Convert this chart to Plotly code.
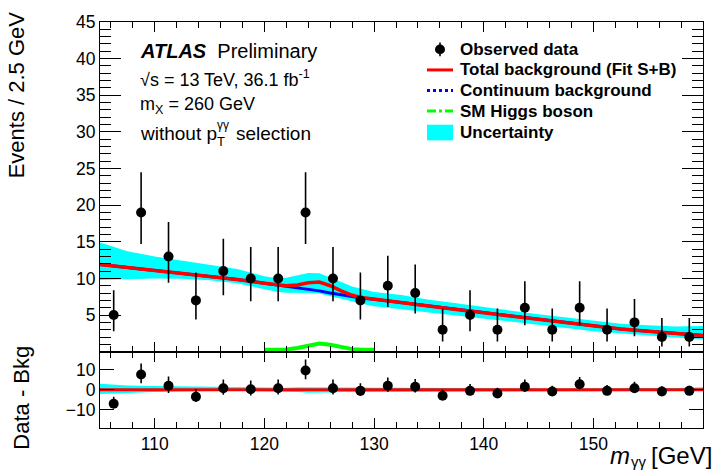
import plotly.graph_objects as go

# ---------------- data ----------------
bin_centers = [106.25, 108.75, 111.25, 113.75, 116.25, 118.75, 121.25, 123.75,
               126.25, 128.75, 131.25, 133.75, 136.25, 138.75, 141.25, 143.75,
               146.25, 148.75, 151.25, 153.75, 156.25, 158.75]
observed = [5, 19, 13, 7, 11, 10, 10, 19, 10, 7, 9, 8, 3, 5, 3, 6, 3, 6, 3, 4, 2, 2]
err_up = [3.4, 5.5, 4.7, 3.8, 4.4, 4.3, 4.3, 5.5, 4.3, 3.8, 4.1, 3.9,
          2.9, 3.4, 2.9, 3.6, 2.9, 3.6, 2.9, 3.2, 2.6, 2.6]
err_dn = [2.2, 4.3, 3.6, 2.6, 3.3, 3.1, 3.1, 4.3, 3.1, 2.6, 2.9, 2.8,
          1.6, 2.2, 1.6, 2.4, 1.6, 2.4, 1.6, 1.9, 1.3, 1.3]
residual = [-6.9, 7.6, 2.0, -3.4, 0.8, 0.3, 0.8, 9.6, 0.8, -0.5, 2.0, 1.5,
            -2.9, -0.5, -1.8, 1.5, -0.8, 2.8, -0.5, 0.8, -0.8, -0.5]

curve_x = [105, 107.5, 110, 112.5, 115, 117.5, 120, 121, 122, 123, 124, 125,
           126, 127, 128, 129, 130, 132.5, 135, 137.5, 140, 142.5, 145, 147.5,
           150, 152.5, 155, 157.5, 160]
total_bkg = [11.9, 11.5, 11.1, 10.7, 10.3, 9.85, 9.35, 9.15, 9.0, 9.1, 9.4, 9.5,
             9.0, 8.3, 7.7, 7.35, 7.15, 6.7, 6.2, 5.75, 5.3, 4.85, 4.4, 3.95,
             3.5, 3.1, 2.8, 2.5, 2.2]
continuum = [11.9, 11.5, 11.1, 10.7, 10.3, 9.85, 9.35, 9.15, 8.95, 8.75, 8.55, 8.3,
             8.0, 7.75, 7.5, 7.3, 7.15, 6.7, 6.2, 5.75, 5.3, 4.85, 4.4, 3.95,
             3.5, 3.1, 2.8, 2.5, 2.2]
band_hi = [14.9, 13.7, 13.0, 12.4, 11.8, 11.3, 10.3, 10.05, 10.1, 10.4, 10.75, 10.7,
           10.15, 9.5, 8.9, 8.5, 8.15, 7.75, 7.1, 6.6, 6.05, 5.6, 5.1, 4.65,
           4.2, 3.8, 3.6, 3.45, 3.5]
band_lo = [9.8, 9.9, 10.0, 9.95, 9.75, 9.35, 8.5, 8.2, 8.05, 8.0, 8.0, 7.95,
           7.65, 7.25, 6.85, 6.5, 6.2, 5.8, 5.35, 4.95, 4.55, 4.1, 3.65, 3.25,
           2.8, 2.45, 2.2, 1.95, 1.7]
resid_band_hi = [3.0, 2.2, 1.9, 1.7, 1.5, 1.45, 0.95, 0.9, 1.1, 1.3, 1.35, 1.2,
                 1.15, 1.2, 1.2, 1.15, 1.0, 1.05, 0.9, 0.85, 0.75, 0.75, 0.7, 0.7,
                 0.7, 0.7, 0.8, 0.95, 1.3]
resid_band_lo = [-2.1, -1.6, -1.1, -0.75, -0.55, -0.5, -0.85, -0.95, -0.95, -1.1, -1.4, -1.55,
                 -1.35, -1.05, -0.85, -0.85, -0.95, -0.9, -0.85, -0.8, -0.75, -0.75, -0.75, -0.7,
                 -0.7, -0.65, -0.6, -0.55, -0.5]
zero_line = [0.0] * len(curve_x)

higgs_x = [120, 121, 122, 123, 124, 125, 126, 127, 128, 129, 130]
higgs = [0.25, 0.25, 0.3, 0.5, 0.85, 1.1, 0.95, 0.6, 0.35, 0.25, 0.25]

top_ticks = [5, 10, 15, 20, 25, 30, 35, 40, 45]
bottom_ticks = [-10, 0, 10]
bottom_ticktext = ["\u221210", "0", "10"]

legend_labels = ["Observed data", "Total background (Fit S+B)",
                 "Continuum background", "SM Higgs boson", "Uncertainty"]

# ---------------- geometry helpers (pixels -> paper) ----------------
W, H = 717, 472
ML, MR, MT, MB = 100, 14, 13, 44
PW, PH = W - ML - MR, H - MT - MB
SPLIT = 350  # pixel row of the boundary between panels


def px(x):
    return (x - ML) / PW


def py(y):
    return (H - MB - y) / PH


FONT = "Liberation Sans, Arial, Helvetica, sans-serif"
CYAN = "#00FFFF"

fig = go.Figure()

# ---- top panel ----
fig.add_trace(go.Scatter(x=curve_x + curve_x[::-1], y=band_hi + band_lo[::-1],
                         fill="toself", fillcolor=CYAN, line=dict(width=0),
                         mode="lines", hoverinfo="skip", showlegend=False,
                         xaxis="x", yaxis="y"))
fig.add_trace(go.Scatter(x=curve_x, y=continuum, mode="lines",
                         line=dict(color="#0000FF", width=3), showlegend=False,
                         xaxis="x", yaxis="y"))
fig.add_trace(go.Scatter(x=curve_x, y=total_bkg, mode="lines",
                         line=dict(color="#FF0000", width=3.5), showlegend=False,
                         xaxis="x", yaxis="y"))
fig.add_trace(go.Scatter(x=higgs_x, y=higgs, mode="lines",
                         line=dict(color="#00FF00", width=4), showlegend=False,
                         xaxis="x", yaxis="y"))
fig.add_trace(go.Scatter(x=bin_centers, y=observed, mode="markers",
                         marker=dict(color="black", size=10),
                         error_y=dict(type="data", symmetric=False, array=err_up,
                                      arrayminus=err_dn, color="black",
                                      thickness=1.6, width=0),
                         showlegend=False, xaxis="x", yaxis="y"))

# ---- bottom panel ----
fig.add_trace(go.Scatter(x=curve_x + curve_x[::-1],
                         y=resid_band_hi + resid_band_lo[::-1],
                         fill="toself", fillcolor=CYAN, line=dict(width=0),
                         mode="lines", hoverinfo="skip", showlegend=False,
                         xaxis="x2", yaxis="y2"))
fig.add_trace(go.Scatter(x=curve_x, y=zero_line, mode="lines",
                         line=dict(color="#FF0000", width=3), showlegend=False,
                         xaxis="x2", yaxis="y2"))
fig.add_trace(go.Scatter(x=bin_centers, y=residual, mode="markers",
                         marker=dict(color="black", size=10),
                         error_y=dict(type="data", symmetric=False, array=err_up,
                                      arrayminus=err_dn, color="black",
                                      thickness=1.6, width=0),
                         showlegend=False, xaxis="x2", yaxis="y2"))

split_frac = py(SPLIT)
tickfont = dict(family=FONT, size=17.5, color="black")

common_x = dict(range=[105, 160], showline=True, linecolor="black", linewidth=1,
                mirror="allticks", ticks="inside", ticklen=10, tickwidth=1,
                tickcolor="black", tick0=100, dtick=10, showgrid=False,
                zeroline=False,
                minor=dict(ticks="inside", dtick=2, tick0=100, ticklen=6,
                           tickcolor="black", tickwidth=1, showgrid=False))

fig.update_layout(
    width=W, height=H,
    margin=dict(l=ML, r=MR, t=MT, b=MB),
    paper_bgcolor="white", plot_bgcolor="white",
    showlegend=False,
    xaxis=dict(**common_x, anchor="y", domain=[0, 1], showticklabels=False),
    yaxis=dict(range=[0, 45], domain=[split_frac, 1], anchor="x",
               tickmode="array", tickvals=top_ticks, showline=True,
               linecolor="black", linewidth=1, mirror="allticks",
               ticks="inside", ticklen=21, tickcolor="black", tickwidth=1,
               showgrid=False, zeroline=False, tickfont=tickfont,
               minor=dict(ticks="inside", dtick=1, tick0=0, ticklen=11,
                          tickcolor="black", tickwidth=1, showgrid=False)),
    xaxis2=dict(**common_x, anchor="y2", domain=[0, 1], showticklabels=True,
                tickfont=tickfont),
    yaxis2=dict(range=[-19, 19], domain=[0, split_frac], anchor="x2",
                tickmode="array", tickvals=bottom_ticks, ticktext=bottom_ticktext,
                showline=True, linecolor="black", linewidth=1, mirror="allticks",
                ticks="inside", ticklen=14, tickcolor="black", tickwidth=1,
                showgrid=False, zeroline=False, tickfont=tickfont),
)

# ---- axis titles ----
ann = []
ann.append(dict(text="Events / 2.5 GeV", x=px(16), y=py(88), xref="paper", yref="paper",
                textangle=-90, showarrow=False, xanchor="center", yanchor="middle",
                font=dict(family=FONT, size=22, color="black")))
ann.append(dict(text="Data - Bkg", x=px(22), y=py(397), xref="paper", yref="paper",
                textangle=-90, showarrow=False, xanchor="center", yanchor="middle",
                font=dict(family=FONT, size=22, color="black")))
# x title built from three pieces (ROOT-like subscript placement)
ann.append(dict(text="[GeV]", x=px(714), y=py(456), xref="paper", yref="paper",
                showarrow=False, xanchor="right", yanchor="middle",
                font=dict(family=FONT, size=24, color="black")))
ann.append(dict(text="\u03b3\u03b3", x=px(649), y=py(462), xref="paper", yref="paper",
                showarrow=False, xanchor="right", yanchor="middle",
                font=dict(family=FONT, size=15, color="black")))
ann.append(dict(text="<i>m</i>", x=px(632), y=py(456), xref="paper", yref="paper",
                showarrow=False, xanchor="right", yanchor="middle",
                font=dict(family=FONT, size=24, color="black")))

# ---- ATLAS labels ----
ann.append(dict(text="<b><i>ATLAS</i></b>  Preliminary", x=px(138), y=py(43),
                xref="paper", yref="paper", showarrow=False, xanchor="left",
                yanchor="middle", font=dict(family=FONT, size=20, color="black")))
ann.append(dict(text="\u221as = 13 TeV, 36.1 fb<sup>-1</sup>", x=px(138), y=py(71),
                xref="paper", yref="paper", showarrow=False, xanchor="left",
                yanchor="middle", font=dict(family=FONT, size=18, color="black")))
ann.append(dict(text="m<sub>X</sub> = 260 GeV", x=px(138), y=py(98),
                xref="paper", yref="paper", showarrow=False, xanchor="left",
                yanchor="middle", font=dict(family=FONT, size=18, color="black")))
ann.append(dict(text="without p", x=px(138), y=py(127),
                xref="paper", yref="paper", showarrow=False, xanchor="left",
                yanchor="middle", font=dict(family=FONT, size=19, color="black")))
ann.append(dict(text="\u03b3\u03b3", x=px(215), y=py(118),
                xref="paper", yref="paper", showarrow=False, xanchor="left",
                yanchor="middle", font=dict(family=FONT, size=12, color="black")))
ann.append(dict(text="T", x=px(215), y=py(135),
                xref="paper", yref="paper", showarrow=False, xanchor="left",
                yanchor="middle", font=dict(family=FONT, size=13, color="black")))
ann.append(dict(text="selection", x=px(234), y=py(127),
                xref="paper", yref="paper", showarrow=False, xanchor="left",
                yanchor="middle", font=dict(family=FONT, size=19, color="black")))

# ---- legend (manual, ROOT style) ----
leg_rows = [41, 62, 83, 104, 126]
leg_font = dict(family=FONT, size=17, color="black")
for lbl, yy in zip(legend_labels, leg_rows):
    ann.append(dict(text="<b>%s</b>" % lbl, x=px(458), y=py(yy), xref="paper",
                    yref="paper", showarrow=False, xanchor="left", yanchor="middle",
                    font=leg_font))

shapes = []
shapes.append(dict(type="line", xref="paper", yref="paper", x0=px(440), x1=px(440),
                   y0=py(leg_rows[0] - 7), y1=py(leg_rows[0] + 7),
                   line=dict(color="black", width=1.6)))
shapes.append(dict(type="circle", xref="paper", yref="paper", x0=px(435), x1=px(445),
                   y0=py(leg_rows[0] - 5), y1=py(leg_rows[0] + 5),
                   fillcolor="black", line=dict(color="black", width=0)))
shapes.append(dict(type="line", xref="paper", yref="paper", x0=px(427), x1=px(453),
                   y0=py(leg_rows[1]), y1=py(leg_rows[1]),
                   line=dict(color="#FF0000", width=3)))
shapes.append(dict(type="line", xref="paper", yref="paper", x0=px(427), x1=px(453),
                   y0=py(leg_rows[2]), y1=py(leg_rows[2]),
                   line=dict(color="#0000FF", width=3, dash="dot")))
shapes.append(dict(type="line", xref="paper", yref="paper", x0=px(427), x1=px(453),
                   y0=py(leg_rows[3]), y1=py(leg_rows[3]),
                   line=dict(color="#00FF00", width=3, dash="dashdot")))
shapes.append(dict(type="rect", xref="paper", yref="paper", x0=px(427), x1=px(453),
                   y0=py(leg_rows[4] - 8), y1=py(leg_rows[4] + 8),
                   fillcolor=CYAN, line=dict(width=0)))

fig.update_layout(annotations=ann, shapes=shapes)

fig.write_html("out.html")
